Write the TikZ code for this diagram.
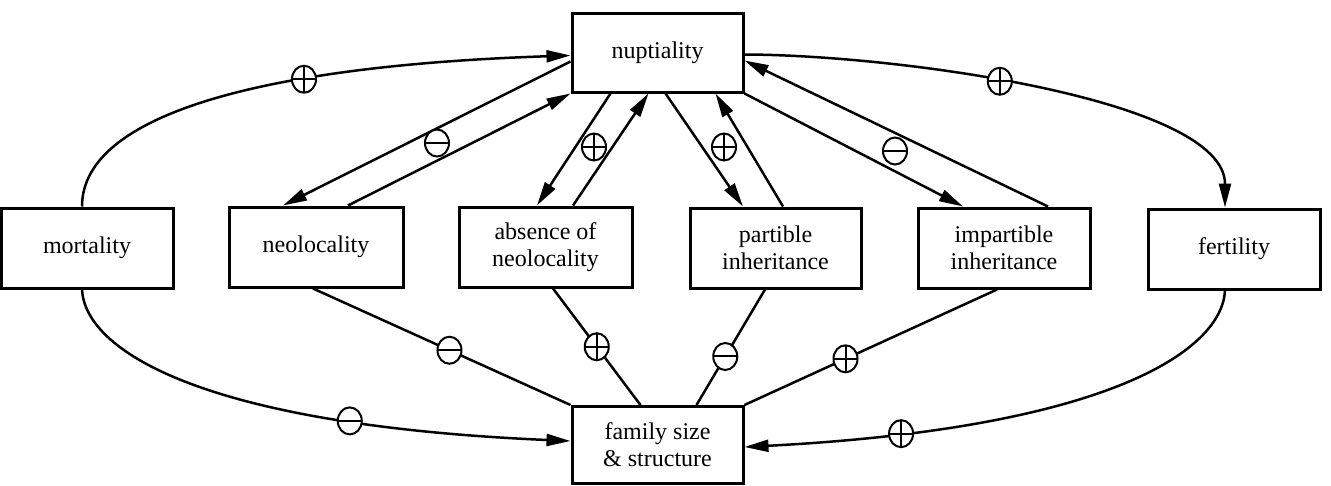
\documentclass[tikz,border=0pt]{standalone}
\usepackage{fontspec}
\setmainfont{Liberation Serif}
\usetikzlibrary{arrows.meta,shapes.geometric,calc}

\tikzset{
  box/.style={draw, line width=3pt, fill=white, minimum width=172pt, minimum height=80pt,
    inner sep=0pt, align=center, font=\fontsize{24}{27}\selectfont},
  link/.style={line width=2.5pt},
  arr/.style={link, -{Triangle[length=24pt,width=12pt]}},
  sign/.style={ellipse, draw, fill=white, line width=2pt, minimum width=24pt,
    minimum height=27pt, inner sep=0pt},
  signplus/.style={sign, path picture={
      \draw[-, line width=2pt] (path picture bounding box.north) -- (path picture bounding box.south)
        (path picture bounding box.west) -- (path picture bounding box.east);}},
  signminus/.style={sign, path picture={
      \draw[-, line width=2pt] (path picture bounding box.west) -- (path picture bounding box.east);}},
}

\begin{document}
\begin{tikzpicture}[x=1pt, y=-1pt]
\useasboundingbox (0,0) rectangle (1331,485);

% boxes
\node[box, minimum width=171pt, minimum height=79pt] (nup) at (657.5,52.5) {nuptiality};
\node[box] (mort) at (87,248)    {mortality};
\node[box, minimum width=174pt] (neo)  at (316,247)   {neolocality};
\node[box, minimum width=173pt] (abs)  at (545.5,247) {absence of\\neolocality};
\node[box, minimum width=171pt] (part) at (775.5,248) {partible\\inheritance};
\node[box] (imp)  at (1004,248)  {impartible\\inheritance};
\node[box] (fert) at (1234,249)  {fertility};
\node[box, minimum width=171pt, minimum height=77pt] (fam) at (657.5,445) {family size\\\& structure};

% mortality and fertility loops
\draw[arr] ($(mort.north)+(-5,0)$) .. controls (82,110) and (280,65) .. ($(nup.west)+(0,3)$)
  node[signplus, pos=0.65] (s1) {};
\draw[arr] ($(nup.east)+(0,2)$) .. controls (900,55) and (1225,100) .. ($(fert.north)+(-9,0)$)
  node[signplus, pos=0.43] (s6) {};
\draw[arr] ($(mort.south)+(-5,0)$) .. controls (85,350) and (200,425) .. ($(fam.west)+(0,-4)$)
  node[signminus, pos=0.765] (s11) {};
\draw[arr] ($(fert.south)+(-9,0)$) .. controls (1222,350) and (1110,428) .. ($(fam.east)+(0,2)$)
  node[signplus, pos=0.84] (s12) {};

% nuptiality <-> middle boxes
\draw[arr] ($(nup.west)+(0,9)$) -- ($(neo.north)+(-33,0)$);
\draw[arr] ($(neo.north)+(32,0)$) -- (nup.south west);
\draw[arr] ($(nup.south west)+(40,0)$) -- ($(abs.north)+(-8.5,0)$);
\draw[arr] ($(abs.north)+(27.5,0)$) -- ($(nup.south west)+(78,0)$);
\draw[arr] ($(nup.south west)+(95,0)$) -- ($(part.north)+(-32.5,0)$);
\draw[arr] ($(part.north)+(7.5,0)$) -- ($(nup.south west)+(145,0)$);
\draw[arr] (nup.south east) -- ($(imp.north)+(-41,0)$);
\draw[arr] ($(imp.north)+(44,0)$) -- ($(nup.east)+(0,8)$);

\node[signminus] (s2) at (437,143) {};
\node[signplus]  (s3) at (594,147) {};
\node[signplus]  (s4) at (724,147) {};
\node[signminus] (s5) at (895,151) {};

% middle boxes -> family size & structure
\draw[link] ($(neo.south)+(-3,0)$) -- (fam.north west) node[signminus, pos=0.53] (s7) {};
\draw[link] ($(abs.south)+(7.5,0)$) -- ($(fam.north west)+(70,0)$) node[signplus, pos=0.5] (s8) {};
\draw[link] ($(part.south)+(-10.5,0)$) -- ($(fam.north west)+(126,0)$) node[signminus, pos=0.58] (s9) {};
\draw[link] ($(imp.south)+(-7,0)$) -- (fam.north east) node[signplus, pos=0.6] (s10) {};
\end{tikzpicture}
\end{document}
